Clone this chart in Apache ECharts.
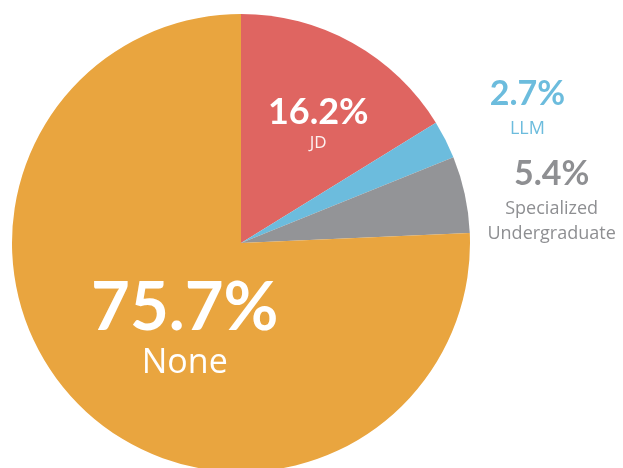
<!DOCTYPE html>
<html>
<head>
<meta charset="utf-8">
<script src="https://cdn.jsdelivr.net/npm/echarts@6/dist/echarts.min.js"></script>
<style>
  html, body { margin: 0; padding: 0; background: #ffffff; }
  #chart { width: 623px; height: 468px; }
</style>
</head>
<body>
<div id="chart"></div>
<script>
// 数据
const categories = ['JD', 'LLM', 'Specialized\nUndergraduate', 'None'];
const shares = [16.2, 2.7, 5.4, 75.7];
const colors = ['#DF6561', '#6CBCDD', '#939497', '#E9A53F'];

// 标签样式: 内部 / 外部
const labelKinds = ['inner', 'outer', 'outer', 'big'];
// 标签偏移 (相对于默认位置)
const labelShift = [
  { dx: 20, dy: -17 },
  { dx: -4, dy: -26 },
  { dx: -27, dy: 8 },
  { dx: 25, dy: 0 }
];

const font = 'Lato, "Noto Sans", sans-serif';
const nameFont = '"Open Sans", Lato, sans-serif';

const richFor = (kind, color) => {
  if (kind === 'inner') {
    return {
      p: { fontSize: 36, fontWeight: 'bold', color: '#fff', align: 'center', lineHeight: 40, fontFamily: font },
      n: { fontSize: 17, color: 'rgba(255,255,255,0.9)', align: 'center', lineHeight: 22, fontFamily: nameFont }
    };
  }
  if (kind === 'big') {
    return {
      p: { fontSize: 67, fontWeight: 'bold', color: '#fff', align: 'center', lineHeight: 70, fontFamily: font },
      n: { fontSize: 34, color: '#fff', align: 'center', lineHeight: 40, fontFamily: nameFont }
    };
  }
  return {
    p: { fontSize: 34, fontWeight: 'bold', color: color, align: 'center', lineHeight: 44, fontFamily: font },
    n: { fontSize: 18, color: color, align: 'center', lineHeight: 25, fontFamily: nameFont }
  };
};

const chart = echarts.init(document.getElementById('chart'));

const data = categories.map((name, i) => {
  const kind = labelKinds[i];
  const textColor = i === 1 ? '#6CBCDD' : '#8E8F92';
  return {
    name: name,
    value: shares[i],
    itemStyle: { color: colors[i] },
    label: {
      position: kind === 'outer' ? 'outside' : 'inside',
      formatter: '{p|' + shares[i].toFixed(1) + '%}\n{n|' + name.split('\n').join('}\n{n|') + '}',
      rich: richFor(kind, textColor)
    },
    labelLine: { show: false }
  };
});

chart.setOption({
  animation: false,
  series: [
    {
      type: 'pie',
      center: [241, 243],
      radius: 229,
      startAngle: 90,
      clockwise: true,
      avoidLabelOverlap: false,
      itemStyle: { borderWidth: 0 },
      label: { show: true },
      labelLayout: (params) => {
        const s = labelShift[params.dataIndex];
        return { dx: s.dx, dy: s.dy };
      },
      data: data
    }
  ]
});
</script>
</body>
</html>
